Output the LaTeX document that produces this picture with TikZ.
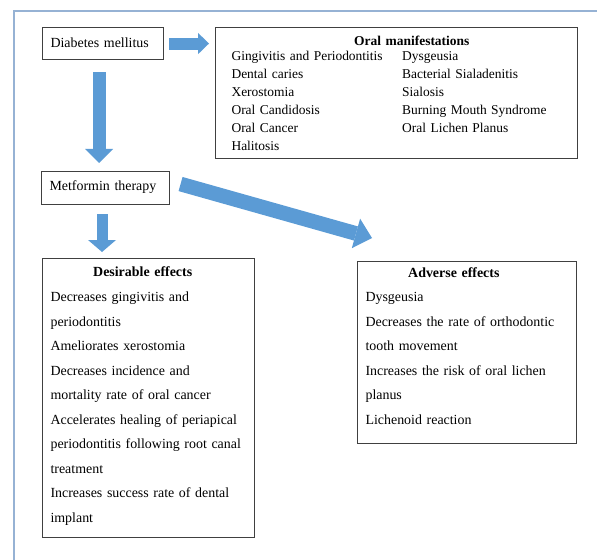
\documentclass[tikz,border=0pt]{standalone}
\usepackage{fontspec}
\setmainfont{Liberation Serif}
\usetikzlibrary{arrows.meta,calc}
\definecolor{arrowblue}{RGB}{91,155,213}
\definecolor{frameblue}{RGB}{150,178,212}
\definecolor{boxgray}{RGB}{64,64,64}
\tikzset{
	box/.style={draw=boxgray, line width=0.8pt, anchor=north west, align=left,
		inner xsep=6pt, inner ysep=0pt, font=\fontsize{10.45}{18.4}\selectfont},
	blockarrow/.style n args={3}{draw=arrowblue, line width=#1,
		-{Triangle[width=#2, length=#3, line width=0pt]}}
}
\begin{document}
\begin{tikzpicture}[x=0.75pt, y=-0.75pt]
	\useasboundingbox (0,0) rectangle (597,560);
	% outer frame
	\draw[frameblue, line width=1.2pt] (14,560) -- (14,11) -- (597,11);
	% boxes
	\node[box, text width=78.75pt, minimum height=24pt] (diab) at (42,27)
		{Diabetes mellitus\rule[-2pt]{0pt}{0pt}};
	\node[box, text width=247.5pt, minimum height=98.25pt, inner xsep=12pt,
		font=\fontsize{10.1}{13.5}\selectfont] (oral) at (215,27)
		{\hspace*{92pt}\textbf{Oral manifestations}\\[-2.2pt]
		\makebox[128pt][l]{Gingivitis and Periodontitis}Dysgeusia\\
		\makebox[128pt][l]{Dental caries}Bacterial Sialadenitis\\
		\makebox[128pt][l]{Xerostomia}Sialosis\\
		\makebox[128pt][l]{Oral Candidosis}Burning Mouth Syndrome\\
		\makebox[128pt][l]{Oral Cancer}Oral Lichen Planus\\
		Halitosis};
	\node[box, text width=84pt, minimum height=24.75pt] (metf) at (41,171)
		{Metformin therapy\rule[-4pt]{0pt}{0pt}};
	\node[box, text width=147pt, minimum height=209.25pt] (desir) at (42,258)
		{\hspace*{32pt}\textbf{Desirable effects}\\
		Decreases gingivitis and\\
		periodontitis\\
		Ameliorates xerostomia\\
		Decreases incidence and\\
		mortality rate of oral cancer\\
		Accelerates healing of periapical\\
		periodontitis following root canal\\
		treatment\\
		Increases success rate of dental\\
		implant\rule[-5pt]{0pt}{0pt}};
	\node[box, text width=152.25pt, minimum height=136.5pt] (adver) at (357,261)
		{\hspace*{32pt}\textbf{Adverse effects}\\
		Dysgeusia\\
		Decreases the rate of orthodontic\\
		tooth movement\\
		Increases the risk of oral lichen\\
		planus\\
		Lichenoid reaction\rule[-10pt]{0pt}{0pt}};
	% block arrows
	\draw[blockarrow={9pt}{16pt}{8.25pt}, shorten <=3.75pt, shorten >=4.5pt]
		(diab.east) -- (diab.east -| oral.west);
	\coordinate (d1) at ($(diab.south)+(-4,0)$);
	\draw[blockarrow={9.75pt}{21pt}{10.5pt}, shorten <=9pt, shorten >=6pt]
		(d1) -- (d1 |- metf.north);
	\coordinate (m1) at ($(metf.south)+(-3.5,0)$);
	\draw[blockarrow={8.25pt}{21pt}{9pt}, shorten <=6.75pt, shorten >=4.5pt]
		(m1) -- (m1 |- desir.north);
	\draw[blockarrow={11pt}{23pt}{12.5pt}]
		($(metf.east)+(10.5,-4)$) -- ($(adver.north west)+(15,-23)$);
\end{tikzpicture}
\end{document}
